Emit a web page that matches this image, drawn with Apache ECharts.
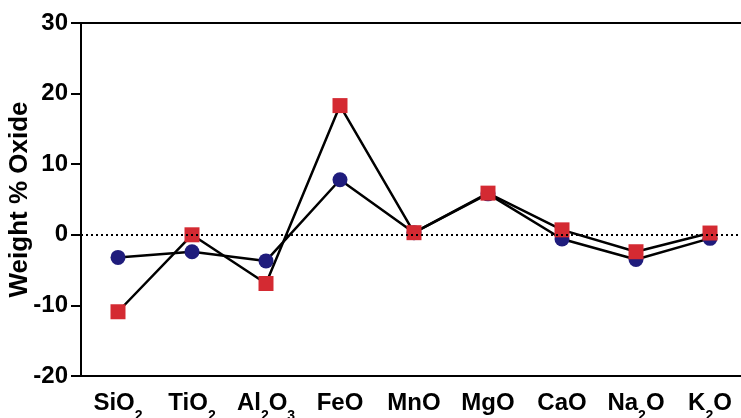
<!DOCTYPE html>
<html>
<head>
<meta charset="utf-8">
<script src="https://cdn.jsdelivr.net/npm/echarts@6/dist/echarts.min.js"></script>
<style>html,body{margin:0;padding:0;background:#fff}#c{width:741px;height:418px}</style>
</head>
<body>
<div id="c"></div>
<script>
const categories = ['SiO|2', 'TiO|2', 'Al|2|O|3', 'FeO', 'MnO', 'MgO', 'CaO', 'Na|2|O', 'K|2|O'];
const circleValues = [-3.2, -2.4, -3.7, 7.8, 0.3, 5.8, -0.6, -3.5, -0.5];
const squareValues = [-10.9, 0.0, -6.9, 18.3, 0.3, 5.9, 0.7, -2.4, 0.25];
const yTicks = [-20, -10, 0, 10, 20, 30];

function richLabel(c) {
  const parts = c.split('|');
  return parts.map((p, i) => (i % 2 === 0 ? '{m|' + p + '}' : '{s|' + p + '}')).join('');
}

const FONT = '"Liberation Sans", Arial, sans-serif';
const chart = echarts.init(document.getElementById('c'));
chart.setOption({
  animation: false,
  backgroundColor: '#fff',
  grid: { left: 81, top: 23, width: 666, height: 353, show: true, borderColor: '#000', borderWidth: 2, containLabel: false, outerBoundsMode: 'none' },
  xAxis: {
    type: 'category',
    data: categories,
    boundaryGap: true,
    axisLine: { onZero: false, lineStyle: { color: '#000', width: 2 } },
    axisTick: { alignWithLabel: true, length: 8, lineStyle: { color: '#000', width: 2 } },
    axisLabel: {
      margin: 15,
      interval: 0,
      formatter: v => richLabel(v),
      rich: {
        m: { fontSize: 24, fontWeight: 'bold', color: '#000', fontFamily: FONT, verticalAlign: 'bottom', lineHeight: 24 },
        s: { fontSize: 14, fontWeight: 'bold', color: '#000', fontFamily: FONT, verticalAlign: 'bottom', padding: [0, 0, -8, 0], lineHeight: 24 }
      }
    }
  },
  yAxis: {
    type: 'value',
    min: yTicks[0],
    max: yTicks[yTicks.length - 1],
    interval: 10,
    splitLine: { show: false },
    name: 'Weight % Oxide',
    nameLocation: 'middle',
    nameRotate: 90,
    nameGap: 48,
    nameMoveOverlap: false,
    nameTextStyle: { fontSize: 26, fontWeight: 'bold', color: '#000', fontFamily: FONT },
    axisLine: { show: true, onZero: false, lineStyle: { color: '#000', width: 2 } },
    axisTick: { show: true, length: 10, lineStyle: { color: '#000', width: 2 } },
    axisLabel: { margin: 13, fontSize: 24, fontWeight: 'bold', color: '#000', fontFamily: FONT }
  },
  series: [
    {
      type: 'line',
      data: circleValues,
      symbol: 'circle',
      symbolSize: 15,
      itemStyle: { color: '#1f1c7c' },
      lineStyle: { color: '#000', width: 2.5 },
      z: 2,
      markLine: {
        silent: true,
        symbol: 'none',
        label: { show: false },
        lineStyle: { color: '#000', width: 2, type: [2, 3] },
        data: [{ yAxis: 0 }]
      }
    },
    {
      type: 'line',
      data: squareValues,
      symbol: 'rect',
      symbolSize: 15,
      itemStyle: { color: '#d42a32' },
      lineStyle: { color: '#000', width: 2.5 },
      z: 3
    }
  ]
});
</script>
</body>
</html>
